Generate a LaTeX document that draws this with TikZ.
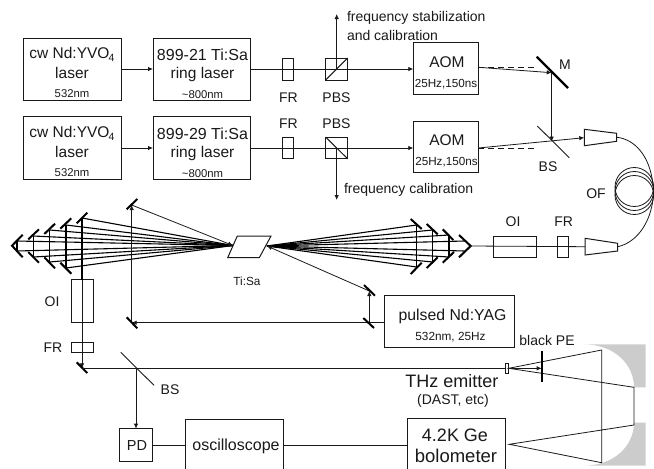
\documentclass[tikz,border=0pt]{standalone}
\usepackage{fontspec}
\setmainfont{Liberation Sans}
\usetikzlibrary{arrows.meta}
\definecolor{ink}{gray}{0.1}
\definecolor{mirrorgray}{gray}{0.8}
\tikzset{
  x=1pt,y=-1pt,
  every node/.style={inner sep=0pt,outer sep=0pt,text=ink,align=center},
  box/.style={draw=ink,line width=1pt},
  beam/.style={draw=ink,line width=0.8pt},
  fan/.style={draw=black,line width=1.1pt},
  mirror/.style={draw=black,line width=2pt},
  thinmirror/.style={draw=ink,line width=0.9pt},
  arr/.style={-{Latex[length=5pt,width=4.5pt]}},
  dashbeam/.style={draw=ink,line width=0.8pt,dash pattern=on 6pt off 4pt},
  big/.style={font=\fontsize{15.5}{17}\selectfont},
  huge1/.style={font=\fontsize{18}{20}\selectfont},
  lab/.style={font=\fontsize{14}{16}\selectfont},
  small/.style={font=\fontsize{11.3}{13}\selectfont},
}
\newcommand{\yvo}{cw Nd:YVO\kern-0.8pt\raisebox{-3pt}{\fontsize{10.5}{11}\selectfont 4}}
\begin{document}
\begin{tikzpicture}
\useasboundingbox (0,0) rectangle (654,469);
% gray off-axis mirrors
\fill[mirrorgray] (583.3,344.3) -- (645.7,344.3) -- (645.7,387.3) -- (634,387.3) .. controls (634,365) and (615,344.3) .. (583.3,344.3) -- cycle;
\fill[mirrorgray] (583.3,465.7) -- (645.7,465.7) -- (645.7,422.7) -- (634,422.7) .. controls (634,445) and (615,465.7) .. (583.3,465.7) -- cycle;
% boxes
\node[box,minimum width=98pt,minimum height=62pt] (cw1) at (72,69) {};
\node[box,minimum width=97pt,minimum height=62pt] (ring1) at (201.5,69) {};
\node[box,minimum width=98pt,minimum height=62.5pt] (cw2) at (72,148) {};
\node[box,minimum width=97pt,minimum height=62.5pt] (ring2) at (201.5,148) {};
\node[box,minimum width=65pt,minimum height=52pt] (aom1) at (445.8,68.3) {};
\node[box,minimum width=65pt,minimum height=51.7pt] (aom2) at (445.8,146.9) {};
\node[box,minimum width=11pt,minimum height=22pt] (fr1) at (288.2,69) {};
\node[box,minimum width=22pt,minimum height=22pt] (pbs1) at (336.7,69) {};
\draw[box] (pbs1.south west) -- (pbs1.north east);
\node[box,minimum width=11pt,minimum height=21.7pt] (fr2) at (288.2,148) {};
\node[box,minimum width=22pt,minimum height=21.7pt] (pbs2) at (336.7,148) {};
\draw[box] (pbs2.north west) -- (pbs2.south east);
\node[box,minimum width=43pt,minimum height=21.3pt] (oi1) at (514.5,247) {};
\node[box,minimum width=11pt,minimum height=21.3pt] (fr3) at (562.8,247) {};
\node[box,minimum width=22pt,minimum height=42.7pt] (oi2) at (82,301.3) {};
\node[box,minimum width=22pt,minimum height=10.7pt] (fr4) at (82,347.6) {};
\node[box,minimum width=129.7pt,minimum height=52pt] (yag) at (449.8,321.7) {};
\node[box,minimum width=32.7pt,minimum height=33pt] (pd) at (136.3,445.2) {};
\node[box,minimum width=97.6pt,minimum height=52.4pt] (osc) at (234.5,445.2) {};
\node[box,minimum width=97.7pt,minimum height=53.8pt] (bolo) at (456.2,445.2) {};
\node[box,minimum width=3.4pt,minimum height=10pt] (emit) at (507,368.3) {};
% free points of the beams
\coordinate (mM) at (551.7,72.7);
\coordinate (mBS) at (551.7,141.5);
\coordinate (up1) at (336.7,14);
\coordinate (dn2) at (336.7,200);
\coordinate (cL) at (233,245.5);
\coordinate (cR) at (267,246);
\coordinate (pm1) at (131.7,205);
\coordinate (pm2) at (131.7,322.7);
\coordinate (pm3) at (369.3,322.7);
\coordinate (pm4) at (369.3,291);
\coordinate (sm) at (82,368.3);
\coordinate (bs) at (136,368.3);
\coordinate (pe) at (541.7,368.3);
\coordinate (o1) at (601.7,350);
\coordinate (o2) at (601.7,462.7);
\coordinate (o3) at (634,387.3);
\coordinate (o4) at (634,425);
\coordinate (foc) at (509.3,444.3);
% couplers
\draw[box] (584.3,129.3) -- (616.7,133.3) -- (616.7,141.3) -- (584.3,145.7) -- cycle;
\coordinate (c1in) at (584.3,137.7);
\coordinate (c1out) at (616.7,137.3);
\draw[box] (585,238.3) -- (617.7,243.3) -- (617.7,251) -- (585,255) -- cycle;
\coordinate (c2in) at (585,246.7);
\coordinate (c2out) at (617.7,246.7);
% fibre
\draw[beam] (c1out) .. controls (634,139) and (650,155) .. (653,185);
\draw[beam] (c2out) .. controls (635,243) and (651,225) .. (653.5,195);
\foreach \dy/\ry in {-4/19.5,0/19.5,4/19.5}
  \draw[beam] (634.3,191+\dy) ellipse (19.3pt and \ry pt);
% top beams
\draw[beam,arr] (cw1.east) -- (ring1.west);
\draw[beam,arr] (cw2.east) -- (ring2.west);
\draw[beam] (ring1.east) -- (pbs1.center);
\draw[beam,arr] (pbs1.center) -- (aom1.west |- pbs1.center);
\draw[beam,arr] (pbs1.center) -- (up1);
\draw[beam] (ring2.east) -- (pbs2.center);
\draw[beam,arr] (pbs2.center) -- (aom2.west |- pbs2.center);
\draw[beam,arr] (pbs2.center) -- (dn2);
\draw[beam,arr] (aom1.east |- 0,67.3) -- (mM);
\draw[dashbeam] (aom1.east |- 0,67.3) -- (537,67.3);
\draw[dashbeam] (aom2.east |- 0,148) -- (537,148);
\draw[beam,arr] (aom2.east |- 0,148) -- (c1in);
\draw[beam,arr] (mM) -- (mBS);
\draw[mirror,line width=2.4pt] (536.7,56.7) -- (568,88);
\draw[thinmirror] (537.3,126) -- (569.3,157.7);
% amplifier fan: left
\foreach \x/\y in {82/218,66/225,66/268,49.7/230,49.7/262,33.3/236,33.3/257,17/241,17/251}
  \draw[fan] (cL) -- (\x,\y);
\draw[fan] (66,225) -- (66,268);
\draw[fan] (49.7,230) -- (49.7,262);
\draw[fan] (33.3,236) -- (33.3,257);
\draw[fan] (17,241) -- (17,251);
\draw[mirror] (76.7,223.3) -- (87.3,212.7);
\draw[mirror] (60.3,228.7) -- (71.3,218.3);
\draw[mirror] (44.3,234) -- (55,223.7);
\draw[mirror] (28.3,239.3) -- (39,229.3);
\draw[mirror] (22.7,234.7) -- (12,245.7) -- (22.7,257.3);
\draw[mirror] (28.3,252) -- (39,262.7);
\draw[mirror] (44.3,257.3) -- (55,268.3);
\draw[mirror] (60.3,262.7) -- (71.3,273.7);
% right fan
\foreach \x/\y in {416.7/225,416.7/267,432.7/230,432.7/262,449/235,449/257,464.5/241,464.5/251}
  \draw[fan] (cR) -- (\x,\y);
\draw[fan] (416.7,225) -- (416.7,267);
\draw[fan] (432.7,230) -- (432.7,262);
\draw[fan] (449,235) -- (449,257);
\draw[mirror] (410.7,219) -- (421.7,229);
\draw[mirror] (426.7,224) -- (437.7,234.3);
\draw[mirror] (442.7,229.3) -- (453.3,240);
\draw[mirror] (459,235) -- (470.7,246) -- (459,257.3);
\draw[mirror] (410.7,274) -- (421.7,262.7);
\draw[mirror] (426.7,268) -- (437.7,257.3);
\draw[mirror] (442.7,262.7) -- (454,252);
\draw[beam] (470,246) -- (c2in);
% crystal
\draw[box,fill=white] (237.3,236) -- (271,236) -- (259.3,257.7) -- (227.7,257.7) -- cycle;
% pump
\draw[beam,arr] (pm4) -- (cR);
\draw[beam,arr] (pm1) -- (cL);
\draw[beam] (yag.west |- pm3) -- (pm3);
\draw[beam,arr] (pm3) -- (pm2);
\draw[beam,arr] (pm3) -- (pm4);
\draw[beam,arr] (pm2) -- (pm1);
\draw[mirror] (126.7,209.3) -- (137.3,199);
\draw[mirror] (126.7,317.3) -- (137.3,328.3);
\draw[mirror] (364,285) -- (375,295.7);
\draw[mirror] (363.3,318) -- (374,328);
% probe line
\draw[fan] (82,218) -- (oi2.north);
\draw[beam] (oi2.north) -- (fr4.north);
\draw[beam,arr] (fr4.north) -- (sm);
\draw[mirror] (76.7,362.3) -- (87.3,373);
\draw[beam] (sm) -- (emit.west);
\draw[thinmirror] (120.7,352.3) -- (154,385.3);
\draw[beam,arr] (bs) -- (pd.north -| bs);
% detection
\draw[beam] (pd.east) -- (osc.west);
\draw[beam] (osc.east) -- (bolo.west);
% THz optics
\draw[beam,arr] (emit.east) -- (pe);
\draw[beam] (emit.east) -- (o1) -- (o2) -- (foc) -- (o4) -- (o3) -- cycle;
\draw[mirror] (541.7,351) -- (541.7,382);
% labels
\node[big] (t1) at (72,54.5) {\yvo};
\node[big] (t2) at (72,73) {laser};
\node[small] (t3) at (72,94) {532nm};
\node[big] (t4) at (72,133.5) {\yvo};
\node[big] (t5) at (72,152) {laser};
\node[small] (t6) at (72,173) {532nm};
\node[font=\fontsize{16}{18}\selectfont] (t7) at (202.5,55) {899-21 Ti:Sa};
\node[big] (t8) at (202.5,74) {ring laser};
\node[small] (t9) at (202.5,94.5) {\textasciitilde800nm};
\node[font=\fontsize{16}{18}\selectfont] (t10) at (202.5,134) {899-29 Ti:Sa};
\node[big] (t11) at (202.5,153) {ring laser};
\node[small] (t12) at (202.5,173.5) {\textasciitilde800nm};
\node[lab] (t13) at (288.5,98) {FR};
\node[lab] (t14) at (336.5,98) {PBS};
\node[lab] (t15) at (288.5,123.5) {FR};
\node[lab] (t16) at (336.5,123.5) {PBS};
\node[font=\fontsize{15.5}{17}\selectfont] (t17) at (447,62.5) {AOM};
\node[font=\fontsize{11.7}{13}\selectfont] (t18) at (446,84) {25Hz,150ns};
\node[font=\fontsize{15.5}{17}\selectfont] (t19) at (447,140.5) {AOM};
\node[font=\fontsize{11.7}{13}\selectfont] (t20) at (446.5,162) {25Hz,150ns};
\node[lab,anchor=west] (t21) at (347,18) {frequency stabilization};
\node[lab,anchor=west] (t22) at (347,35) {and calibration};
\node[lab,anchor=west] (t23) at (344,189.5) {frequency calibration};
\node[lab] (t24) at (565,65) {M};
\node[lab] (t25) at (548,167) {BS};
\node[lab] (t26) at (596,194) {OF};
\node[lab] (t27) at (513,222) {OI};
\node[lab] (t28) at (563.7,222) {FR};
\node[font=\fontsize{11.8}{13}\selectfont] (t29) at (247,281) {Ti:Sa};
\node[lab] (t30) at (52,302) {OI};
\node[lab] (t31) at (53,348) {FR};
\node[lab] (t32) at (170,390) {BS};
\node[font=\fontsize{15.8}{17}\selectfont] (t33) at (452.5,316) {pulsed Nd:YAG};
\node[font=\fontsize{11.8}{13}\selectfont] (t34) at (450.5,337) {532nm, 25Hz};
\node[lab] (t35) at (547,340) {black PE};
\node[huge1] (t36) at (452,381) {THz emitter};
\node[font=\fontsize{14}{16}\selectfont] (t37) at (453,401) {(DAST, etc)};
\node[huge1] (t38) at (455,435) {4.2K Ge};
\node[font=\fontsize{18.5}{20}\selectfont] (t39) at (456,456) {bolometer};
\node[font=\fontsize{14.5}{17}\selectfont] (t40) at (137,446) {PD};
\node[font=\fontsize{16}{17}\selectfont] (t41) at (236,446) {oscilloscope};
\end{tikzpicture}
\end{document}
